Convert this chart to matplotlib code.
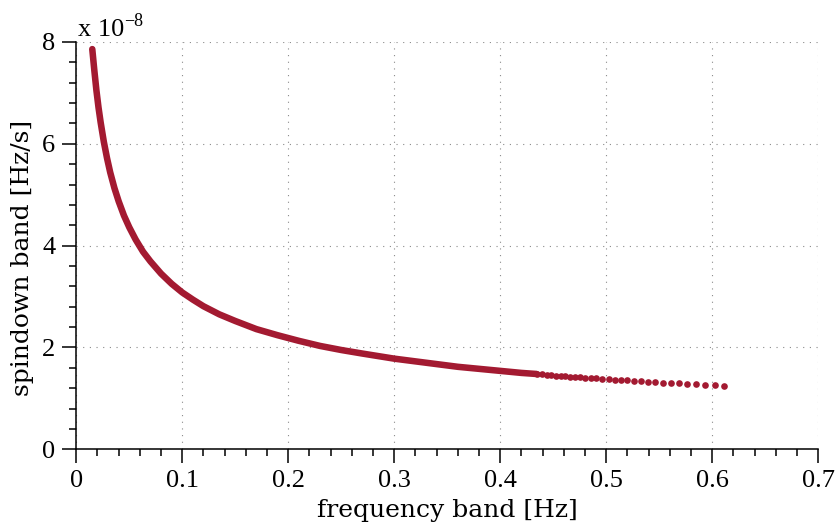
import matplotlib
matplotlib.use("Agg")
import matplotlib.pyplot as plt
from matplotlib.ticker import MultipleLocator

# dense part of the curve (frequency band [Hz], spindown band [1e-8 Hz/s])
curve_freq = [0.0151, 0.017, 0.019, 0.021, 0.023, 0.026, 0.029, 0.032, 0.036,
              0.040, 0.045, 0.050, 0.056, 0.063, 0.070, 0.080, 0.090, 0.100,
              0.110, 0.120, 0.135, 0.150, 0.170, 0.190, 0.210, 0.230, 0.250,
              0.270, 0.300, 0.330, 0.360, 0.390, 0.420, 0.4343]
curve_spin = [7.86, 7.45, 7.05, 6.71, 6.42, 6.04, 5.72, 5.44, 5.13,
              4.87, 4.59, 4.36, 4.12, 3.88, 3.69, 3.45, 3.25, 3.08,
              2.94, 2.81, 2.65, 2.52, 2.36, 2.24, 2.13, 2.03, 1.95,
              1.88, 1.78, 1.70, 1.62, 1.56, 1.50, 1.479]

# sparse tail (individual points visible)
tail_freq = [0.4343, 0.4390, 0.4437, 0.4481, 0.4525, 0.4570, 0.4613, 0.4657,
             0.4705, 0.4752, 0.4802, 0.4853, 0.4903, 0.4963, 0.5023, 0.5080,
             0.5139, 0.5198, 0.5261, 0.5328, 0.5394, 0.5462, 0.5535, 0.5611,
             0.5686, 0.5764, 0.5846, 0.5931, 0.6023, 0.6113]
tail_spin = [1.479, 1.472, 1.464, 1.457, 1.449, 1.442, 1.436, 1.429,
             1.421, 1.414, 1.407, 1.400, 1.392, 1.384, 1.376, 1.368,
             1.360, 1.352, 1.344, 1.336, 1.328, 1.319, 1.310, 1.302,
             1.293, 1.284, 1.275, 1.266, 1.256, 1.247]

xticks = [0, 0.1, 0.2, 0.3, 0.4, 0.5, 0.6, 0.7]
xticklabels = ["0", "0.1", "0.2", "0.3", "0.4", "0.5", "0.6", "0.7"]
yticks = [0, 2, 4, 6, 8]
yticklabels = ["0", "2", "4", "6", "8"]

color = "#A31A31"
tick_font = ["Liberation Serif", "DejaVu Serif"]
label_font = ["DejaVu Serif"]
fs = 19

plt.rcParams["font.family"] = tick_font

fig = plt.figure(figsize=(8.4, 5.3), dpi=100)
ax = fig.add_axes([0.0908, 0.1523, 0.974 - 0.0908, 0.9208 - 0.1523])

ax.plot(curve_freq, curve_spin, "-", color=color, lw=4.7,
        solid_capstyle="round", solid_joinstyle="round", zorder=3)
ax.plot(tail_freq, tail_spin, "o", color=color, ms=4.8, mew=0, zorder=3)

ax.set_xlim(0, 0.7)
ax.set_ylim(0, 8)
ax.xaxis.set_minor_locator(MultipleLocator(0.02))
ax.yaxis.set_minor_locator(MultipleLocator(0.4))
ax.set_xticks(xticks)
ax.set_xticklabels(xticklabels)
ax.set_yticks(yticks)
ax.set_yticklabels(yticklabels)

for s in ("top", "right"):
    ax.spines[s].set_visible(False)
for s in ("left", "bottom"):
    ax.spines[s].set_linewidth(1.1)

ax.tick_params(which="major", direction="out", length=10, width=1.1,
               labelsize=fs, pad=5)
ax.tick_params(which="minor", direction="out", length=5, width=1.1)

ax.grid(True, which="major", color="#8a8a8a", lw=0.8, linestyle=(0, (1, 5)))
ax.set_axisbelow(True)

fig.text(447 / 840, 1 - 517 / 530, "frequency band [Hz]", fontsize=18,
         family=label_font, ha="center", va="baseline")
fig.text(29 / 840, 1 - 258 / 530, "spindown band [Hz/s]", fontsize=18,
         family=label_font, ha="center", va="baseline", rotation=90,
         rotation_mode="anchor")

fig.text(78 / 840, 1 - 36 / 530, "x 10", fontsize=fs, ha="left",
         va="baseline")
fig.text(124 / 840, 1 - 26 / 530, "\u22128", fontsize=13, ha="left",
         va="baseline")

fig.savefig("out.png", dpi=100)
